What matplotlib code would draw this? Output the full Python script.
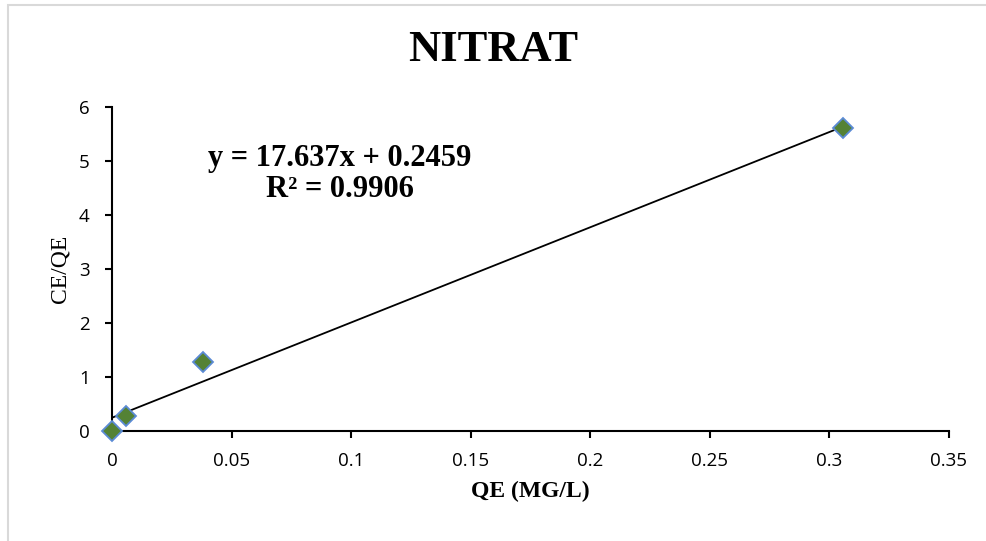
import numpy as np
import matplotlib
matplotlib.use("Agg")
import matplotlib.pyplot as plt
from matplotlib.patches import Rectangle

# data
qe = [0.0, 0.0057, 0.0382, 0.3055]
ce_qe = [0.0, 0.28, 1.27, 5.61]

# trendline as printed on the chart
slope = 17.637
intercept = 0.2459
r2 = 0.9906

xticks = [0, 0.05, 0.1, 0.15, 0.2, 0.25, 0.3, 0.35]
xticklabels = ["0", "0.05", "0.1", "0.15", "0.2", "0.25", "0.3", "0.35"]
yticks = [0, 1, 2, 3, 4, 5, 6]

serif = "Liberation Serif"
sans = "Open Sans"

fig = plt.figure(figsize=(9.87, 5.41), dpi=100)
ax = fig.add_axes([112/987, 1-431/541, (949-112)/987, (431-107)/541])

# trendline over the data range
xl = np.array([min(qe), max(qe)])
ax.plot(xl, slope*xl + intercept, color="black", lw=1.3, zorder=2)

ax.plot(qe, ce_qe, linestyle="none", marker="D", ms=10,
        markerfacecolor="#548235", markeredgecolor="#5B8BD5", markeredgewidth=1.3,
        zorder=3, clip_on=False)

ax.set_xlim(0, 0.35)
ax.set_ylim(0, 6)
ax.set_xticks(xticks)
ax.set_xticklabels(xticklabels)
ax.set_yticks(yticks)

for s in ["top", "right"]:
    ax.spines[s].set_visible(False)
for s in ["left", "bottom"]:
    ax.spines[s].set_linewidth(1.5)
    ax.spines[s].set_color("black")

ax.tick_params(axis="both", direction="out", length=5, width=1.5, color="black",
               labelsize=13.5, labelcolor="black")
ax.tick_params(axis="x", pad=10)
ax.tick_params(axis="y", pad=11)
for lab in ax.get_xticklabels() + ax.get_yticklabels():
    lab.set_fontfamily(sans)

ax.set_xlabel("QE (MG/L)", fontfamily=serif, fontweight="bold", fontsize=17, labelpad=8)
ax.set_ylabel("CE/QE", fontfamily=serif, fontsize=17, labelpad=6)

fig.text(0.5, 1-50/541, "NITRAT", ha="center", va="center",
         fontfamily=serif, fontweight="bold", fontsize=32)

ax.text((340-112)/837, (431-174)/324,
        "y = %.3fx + %.4f\nR² = %.4f" % (slope, intercept, r2),
        transform=ax.transAxes, ha="center", va="center", multialignment="center",
        fontfamily=serif, fontweight="bold", fontsize=22, linespacing=1.05)

# light chart-area border (only the left and top edges are in frame)
fig.add_artist(Rectangle((8/987, -0.1), 2.0, 1.1 - 5/541, transform=fig.transFigure,
                         fill=False, edgecolor="#D9D9D9", lw=1.5))

fig.savefig("out.png", dpi=100)
